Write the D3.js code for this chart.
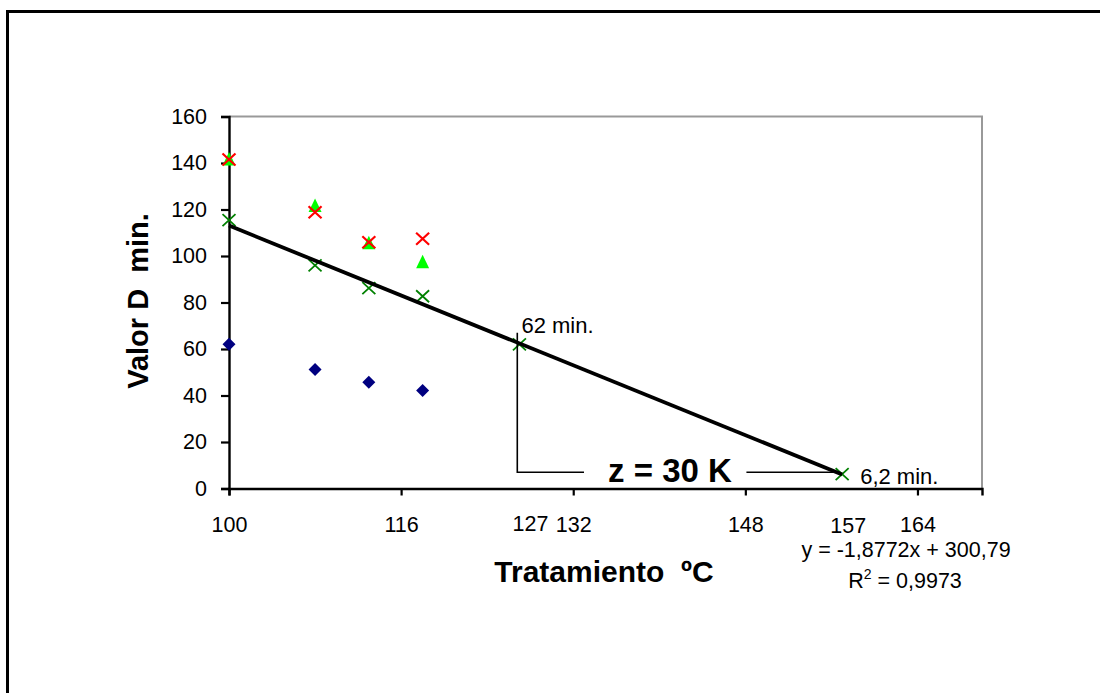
<!DOCTYPE html>
<html>
<head>
<meta charset="utf-8">
<script src="https://cdn.jsdelivr.net/npm/d3@7"></script>
<style>
  body { margin: 0; background: #fff; }
  text { font-family: "Liberation Sans", Arial, sans-serif; }
</style>
</head>
<body>
<div id="chart"></div>
<script>
// data
const temps = [100, 108, 113, 118];
const diamondVals = [62, 51.2, 45.7, 42.1];
const triangleVals = [141.5, 121.5, 105.5, 97.3];
const redXVals = [141.5, 118.8, 105.9, 107.4];
const zTemps = [100, 108, 113, 118, 127, 157];
const zVals = [115.4, 96, 86.2, 82.7, 62, 6.2];
const slope = -1.8772, intercept = 300.79;
const xTicks = [100, 116, 132, 148, 164];
const yTicks = [0, 20, 40, 60, 80, 100, 120, 140, 160];
const extraXLabels = [127, 157];

function chart() {
    const svg = d3.select("#chart")
        .append("svg")
        .attr("width", 1100)
        .attr("height", 693);

    // outer frame
    svg.append("rect")
        .attr("x", 7.5).attr("y", 11.5)
        .attr("width", 1200).attr("height", 800)
        .style("fill", "none").style("stroke", "black").style("stroke-width", 3);

    const x = d3.scaleLinear().domain([100, 170]).range([229, 982]);
    const y = d3.scaleLinear().domain([0, 160]).range([488.5, 116.5]);

    // plot area top + right border (gray)
    svg.append("path")
        .attr("d", `M${x(100)},${y(160)}H${x(170)}V${y(0)}`)
        .style("fill", "none").style("stroke", "#999").style("stroke-width", 2);

    const yAxis = svg.append("g")
        .attr("transform", `translate(${x(100)},0)`)
        .call(d3.axisLeft(y).tickValues(yTicks).tickSize(8).tickPadding(14));
    const xAxis = svg.append("g")
        .attr("transform", `translate(0,${y(0)})`)
        .call(d3.axisBottom(x).tickValues(xTicks).tickSize(7).tickPadding(21));
    [xAxis, yAxis].forEach(a => {
        a.select(".domain").style("stroke", "black").style("stroke-width", 2.4);
        a.selectAll(".tick line").style("stroke", "black").style("stroke-width", 2.2);
        a.selectAll("text").style("font-size", "21.5px").style("fill", "black")
            .style("font-family", "'Liberation Sans', Arial, sans-serif");
    });

    // extra labels on x axis (127, 157)
    svg.selectAll(".extra-label")
        .data(extraXLabels)
        .enter()
        .append("text")
        .attr("x", (d, i) => x(d) + (i == 0 ? 11 : 6))
        .attr("y", (d, i) => i == 0 ? 531 : 533)
        .style("text-anchor", "middle")
        .style("font-size", "21.5px")
        .text(d => d);

    // axis titles
    svg.append("text")
        .attr("transform", "translate(148,301) rotate(-90)")
        .style("text-anchor", "middle")
        .style("font-weight", "bold")
        .style("font-size", "29px")
        .text("Valor D\u00a0\u00a0min.");

    svg.append("text")
        .attr("x", 604).attr("y", 582)
        .style("text-anchor", "middle")
        .style("font-weight", "bold")
        .style("font-size", "30px")
        .text("Tratamiento\u00a0\u00a0ºC");

    // blue diamonds
    svg.selectAll(".diamond")
        .data(temps)
        .enter()
        .append("path")
        .attr("transform", (d, i) => `translate(${x(d)},${y(diamondVals[i])})`)
        .attr("d", "M0,-6.5L6.5,0L0,6.5L-6.5,0Z")
        .style("fill", "#000080");

    // green triangles
    svg.selectAll(".tri")
        .data(temps)
        .enter()
        .append("path")
        .attr("transform", (d, i) => `translate(${x(d)},${y(triangleVals[i])})`)
        .attr("d", "M0,-7.5L6.5,6L-6.5,6Z")
        .style("fill", "#00ff00");

    const cross = "M-6.5,-6L6.5,6M-6.5,6L6.5,-6";

    // red crosses
    svg.selectAll(".redx")
        .data(temps)
        .enter()
        .append("path")
        .attr("transform", (d, i) => `translate(${x(d)},${y(redXVals[i])})`)
        .attr("d", cross)
        .style("stroke", "#ff0000").style("stroke-width", 2.2).style("fill", "none");

    // dark green crosses
    svg.selectAll(".greenx")
        .data(zTemps)
        .enter()
        .append("path")
        .attr("transform", (d, i) => `translate(${x(d)},${y(zVals[i])})`)
        .attr("d", cross)
        .style("stroke", "#008000").style("stroke-width", 1.8).style("fill", "none");

    // trend line
    const trend = d3.extent(zTemps);
    svg.append("line")
        .attr("x1", x(trend[0])).attr("y1", y(slope * trend[0] + intercept))
        .attr("x2", x(trend[1])).attr("y2", y(slope * trend[1] + intercept))
        .style("stroke", "black").style("stroke-width", 3.8);

    // z annotation
    const zx = 126.8, zTop = 67, zBase = 7;
    svg.append("path")
        .attr("d", `M${x(zx)},${y(zTop)}V${y(zBase)}H${x(133)}M${x(148.1)},${y(zBase)}H${x(156.8)}`)
        .style("fill", "none").style("stroke", "black").style("stroke-width", 1.6);

    svg.append("text")
        .attr("x", 670).attr("y", 482)
        .style("text-anchor", "middle")
        .style("font-weight", "bold")
        .style("font-size", "33px")
        .text("z = 30 K");

    svg.append("text")
        .attr("x", x(127) + 2).attr("y", y(67))
        .style("font-size", "22px")
        .text("62 min.");

    svg.append("text")
        .attr("x", x(157) + 18).attr("y", y(6.2) + 10)
        .style("font-size", "22px")
        .text("6,2 min.");

    // equation
    svg.append("text")
        .attr("x", 906).attr("y", 557)
        .style("text-anchor", "middle")
        .style("font-size", "21.5px")
        .text("y = -1,8772x + 300,79");

    const r2 = svg.append("text")
        .attr("x", 905).attr("y", 588)
        .style("text-anchor", "middle")
        .style("font-size", "21.5px");
    r2.append("tspan").text("R");
    r2.append("tspan").attr("dy", -9).style("font-size", "14px").text("2");
    r2.append("tspan").attr("dy", 9).text(" = 0,9973");
}

chart();
</script>
</body>
</html>
